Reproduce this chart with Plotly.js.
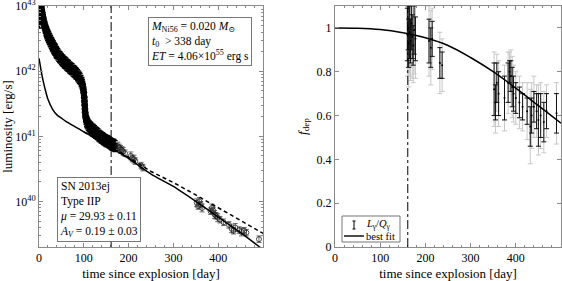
<!DOCTYPE html>
<html><head><meta charset="utf-8">
<script src="https://cdn.plot.ly/plotly-3.0.1.min.js"></script>
<style>html,body{margin:0;padding:0;background:#fff}#chart{width:562px;height:281px}</style>
</head><body><div id="chart"></div>
<script>
// ---- Left panel: bolometric light curve (log10 L in erg/s) ----
const tPlateau = [1,2,3,4,5,6,7,8,9,10,11,12,13,14,15,16,17,18,19,20,21,22,23,24,25,26,27,28,29,30,31,32,33,34,35,36,37,38,39,40,42,44,46,48,50,52,54,56,58,60,62,64,66,68,70,72,74,76,78,80,82,84,86,88,90,92,94,96,97,98,99,100,101,101.5,102,102.5,103,104,105,106,107,108,110,112,114,116,118,120,122,124,126,128,130,132,134,136,138,140,142,144,146,148,150,152,154,156,158,160,162,164,166,168,170];
const logLPlateau = [42.75,42.90,42.98,43.02,42.99,42.94,42.90,42.86,42.82,42.78,42.75,42.72,42.69,42.67,42.64,42.62,42.60,42.58,42.56,42.55,42.53,42.52,42.50,42.49,42.47,42.46,42.44,42.43,42.42,42.40,42.39,42.38,42.36,42.35,42.34,42.33,42.32,42.30,42.29,42.28,42.26,42.24,42.22,42.21,42.19,42.17,42.16,42.14,42.13,42.12,42.10,42.09,42.08,42.06,42.05,42.04,42.03,42.01,42.00,41.99,41.97,41.96,41.94,41.92,41.90,41.88,41.85,41.82,41.79,41.76,41.72,41.67,41.60,41.54,41.48,41.42,41.37,41.31,41.27,41.24,41.22,41.20,41.18,41.16,41.14,41.13,41.11,41.10,41.09,41.08,41.06,41.05,41.04,41.03,41.01,41.00,40.99,40.98,40.97,40.96,40.95,40.94,40.93,40.93,40.92,40.91,40.90,40.89,40.88,40.87,40.87,40.86,40.85];
const errPlateauDex = 0.085;
const tTail = [176,179,182,185,188,192,205,208,212,215,228,232,352,355,358,361,364,383,386,389,392,395,399,404,412,424,430,434,438,447,452,458,463,491];
const logLTail = [40.85,40.83,40.80,40.79,40.77,40.74,40.70,40.66,40.65,40.62,40.55,40.52,39.98,39.93,40.00,39.95,39.90,39.85,39.90,39.86,39.80,39.78,39.75,39.72,39.68,39.64,39.58,39.55,39.60,39.56,39.53,39.55,39.52,39.42];
const errTailDex = [0.06,0.05,0.06,0.05,0.06,0.05,0.06,0.05,0.06,0.05,0.05,0.05,0.06,0.05,0.06,0.05,0.06,0.05,0.06,0.05,0.06,0.05,0.06,0.05,0.05,0.05,0.06,0.05,0.06,0.05,0.06,0.05,0.05,0.05];
// model with deposition (solid) and full trapping (dashed)
const tModel = [0,2,5,10,15,20,30,40,50,60,80,100,120,150,200,250,300,350,400,450,500];
const logLModel = [42.20,42.12,42.00,41.83,41.69,41.57,41.42,41.33,41.28,41.23,41.15,41.07,40.99,40.87,40.66,40.42,40.23,40.00,39.76,39.52,39.26];
const tFull = [100,150,200,250,300,350,400,450,500];
const logLFull = [41.07,40.88,40.68,40.46,40.29,40.10,39.90,39.71,39.51];
const tPlateauEnd = 161;

// ---- Right panel: deposition fraction ----
const tDep = [160,162,163,165,167,169,171,173,175,178,208,212,215,232,237,352,355,358,362,375,383,386,389,392,395,400,408,415,425,432,435,440,446,450,455,462,468,490];
const fDep = [0.97,1.00,0.93,0.98,0.94,1.02,0.96,0.92,0.99,0.95,0.94,0.91,0.95,0.84,0.83,0.72,0.66,0.75,0.70,0.68,0.75,0.80,0.78,0.73,0.70,0.68,0.66,0.64,0.62,0.55,0.60,0.64,0.62,0.58,0.60,0.57,0.62,0.61];
const errDep = [0.12,0.10,0.11,0.12,0.10,0.12,0.10,0.09,0.11,0.10,0.10,0.09,0.08,0.07,0.06,0.12,0.08,0.09,0.10,0.10,0.09,0.05,0.07,0.09,0.08,0.07,0.07,0.06,0.06,0.09,0.08,0.07,0.08,0.12,0.10,0.09,0.08,0.09];
const errDepWide = [0.19,0.18,0.20,0.20,0.18,0.20,0.19,0.17,0.20,0.18,0.16,0.17,0.14,0.14,0.12,0.17,0.14,0.13,0.15,0.15,0.14,0.09,0.12,0.14,0.13,0.12,0.12,0.11,0.13,0.17,0.15,0.14,0.12,0.16,0.15,0.14,0.12,0.14];
const tFit = [0,50,100,150,200,250,300,350,400,450,500];
const fFit = [1.0,0.999,0.993,0.978,0.955,0.92,0.865,0.80,0.725,0.645,0.565];
const xTicks = [0,100,200,300,400];

const toL = a => a.map(v => Math.pow(10, v));
const upErr = (vals, e) => vals.map((v,i) => Math.pow(10, v) * (Math.pow(10, Array.isArray(e)?e[i]:e) - 1));
const dnErr = (vals, e) => vals.map((v,i) => Math.pow(10, v) * (1 - Math.pow(10, -(Array.isArray(e)?e[i]:e))));

const FONT = '"Liberation Serif", "DejaVu Serif", serif';
const traces = [
  {x:tPlateau, y:toL(logLPlateau), xaxis:'x', yaxis:'y', mode:'markers', type:'scatter',
   marker:{symbol:'circle', size:6, color:'#000', line:{width:1, color:'#000'}},
   error_y:{type:'data', symmetric:false, array:upErr(logLPlateau,errPlateauDex), arrayminus:dnErr(logLPlateau,errPlateauDex), color:'#000', thickness:1.4, width:2.5},
   showlegend:false},
  {x:tTail, y:toL(logLTail), xaxis:'x', yaxis:'y', mode:'markers', type:'scatter',
   marker:{symbol:'circle-open', size:5, color:'#222', line:{width:0.8}},
   error_y:{type:'data', symmetric:false, array:upErr(logLTail,errTailDex), arrayminus:dnErr(logLTail,errTailDex), color:'#444', thickness:0.8, width:2.5},
   showlegend:false},
  {x:tFull, y:toL(logLFull), xaxis:'x', yaxis:'y', mode:'lines', line:{color:'#000', width:1.5, dash:'4px,3px'}, showlegend:false},
  {x:tModel, y:toL(logLModel), xaxis:'x', yaxis:'y', mode:'lines', line:{color:'#000', width:1.5, shape:'spline', smoothing:0.6}, showlegend:false},
  {x:tDep, y:fDep, xaxis:'x2', yaxis:'y2', mode:'markers', type:'scatter',
   marker:{size:1, color:'#bbb'},
   error_y:{type:'data', array:errDepWide, color:'#c8c8c8', thickness:1, width:2.5}, showlegend:false},
  {x:tDep, y:fDep, xaxis:'x2', yaxis:'y2', mode:'markers', type:'scatter',
   marker:{size:2, color:'#000'},
   error_y:{type:'data', array:errDep, color:'#111', thickness:1, width:2.5}, showlegend:false},
  {x:tFit, y:fFit, xaxis:'x2', yaxis:'y2', mode:'lines', line:{color:'#000', width:1.5, shape:'spline'}, showlegend:false}
];

const axBase = {showline:true, linecolor:'#8a8a8a', linewidth:1, mirror:'ticks', ticks:'inside', ticklen:4, tickcolor:'#8a8a8a',
  showgrid:false, zeroline:false, tickfont:{family:FONT, size:12, color:'#000'}};
const xMinor = {ticks:'inside', ticklen:2, tickcolor:'#8a8a8a', dtick:20, showgrid:false};
const layout = {
  width:562, height:281, margin:{l:0,r:0,t:0,b:0}, paper_bgcolor:'#fff', plot_bgcolor:'#fff',
  font:{family:FONT, size:12, color:'#000'}, showlegend:false,
  xaxis:Object.assign({}, axBase, {domain:[39/562, 263/562], range:[0,500], tickvals:xTicks, anchor:'y', minor:xMinor,
    title:{text:'time since explosion [day]', font:{family:FONT, size:13}, standoff:4}}),
  yaxis:Object.assign({}, axBase, {domain:[1-247/281, 1-6/281], type:'log', range:[39.3,43.003], anchor:'x', ticklabeloverflow:'allow',
    tickvals:[1e40,1e41,1e42,1e43], ticktext:['10<sup>40</sup>','10<sup>41</sup>','10<sup>42</sup>','10<sup>43</sup>'],
    minor:{ticks:'inside', ticklen:2, tickcolor:'#8a8a8a', dtick:'D1', showgrid:false},
    title:{text:'luminosity [erg/s]', font:{family:FONT, size:13}, standoff:4}}),
  xaxis2:Object.assign({}, axBase, {domain:[335/562, 561/562], range:[0,500], tickvals:xTicks, anchor:'y2', minor:xMinor,
    title:{text:'time since explosion [day]', font:{family:FONT, size:13}, standoff:4}}),
  yaxis2:Object.assign({}, axBase, {domain:[1-247/281, 1-6/281], range:[0,1.1], anchor:'x2',
    tickvals:[0,0.2,0.4,0.6,0.8,1], ticktext:['0','0.2','0.4','0.6','0.8','1'],
    title:{text:'<i>f</i><sub>dep</sub>', font:{family:FONT, size:13}, standoff:6}}),
  shapes:[
    {type:'line', xref:'x', yref:'y domain', x0:tPlateauEnd, x1:tPlateauEnd, y0:0, y1:1, line:{color:'#000', width:1, dash:'dashdot'}},
    {type:'line', xref:'x2', yref:'y2 domain', x0:tPlateauEnd, x1:tPlateauEnd, y0:0, y1:1, line:{color:'#000', width:1, dash:'dashdot'}},
    // legend box (right panel)
    {type:'rect', xref:'paper', yref:'paper', x0:342/562, x1:400/562, y0:1-242/281, y1:1-216/281, line:{color:'#777', width:1}, fillcolor:'#fff'},
    {type:'line', xref:'paper', yref:'paper', x0:354/562, x1:354/562, y0:1-229/281, y1:1-221/281, line:{color:'#000', width:1}},
    {type:'line', xref:'paper', yref:'paper', x0:352.5/562, x1:355.5/562, y0:1-229/281, y1:1-229/281, line:{color:'#000', width:1}},
    {type:'line', xref:'paper', yref:'paper', x0:352.5/562, x1:355.5/562, y0:1-221/281, y1:1-221/281, line:{color:'#000', width:1}},
    {type:'line', xref:'paper', yref:'paper', x0:344/562, x1:364/562, y0:1-236/281, y1:1-236/281, line:{color:'#000', width:1.4}}
  ],
  annotations:[
    {xref:'paper', yref:'paper', x:148/562, y:1-17/281, xanchor:'left', yanchor:'top', align:'left',
     text:'<i>M</i><sub>Ni56</sub> = 0.020 <i>M</i><sub>⊙</sub><br><i>t</i><sub>0</sub>  &gt; 338 day<br><i>ET</i> = 4.06×10<sup>55</sup> erg s',
     showarrow:false, bordercolor:'#777', borderwidth:1, borderpad:2, bgcolor:'#fff', font:{family:FONT, size:11.5}},
    {xref:'paper', yref:'paper', x:57/562, y:1-177/281, xanchor:'left', yanchor:'top', align:'left',
     text:'SN 2013ej<br>Type IIP<br><i>μ</i> = 29.93 ± 0.11<br><i>A<sub>V</sub></i> = 0.19 ± 0.03',
     showarrow:false, bordercolor:'#777', borderwidth:1, borderpad:2, bgcolor:'#fff', font:{family:FONT, size:11.5}},
    {xref:'paper', yref:'paper', x:364/562, y:1-224/281, xanchor:'left', yanchor:'middle', align:'left',
     text:'<i>L</i><sub>γ</sub>/<i>Q</i><sub>γ</sub>', showarrow:false, font:{family:FONT, size:10.5}},
    {xref:'paper', yref:'paper', x:364/562, y:1-236.5/281, xanchor:'left', yanchor:'middle', align:'left',
     text:'best fit', showarrow:false, font:{family:FONT, size:10.5}}
  ]
};
Plotly.newPlot('chart', traces, layout, {staticPlot:true, displayModeBar:false});
</script></body></html>
